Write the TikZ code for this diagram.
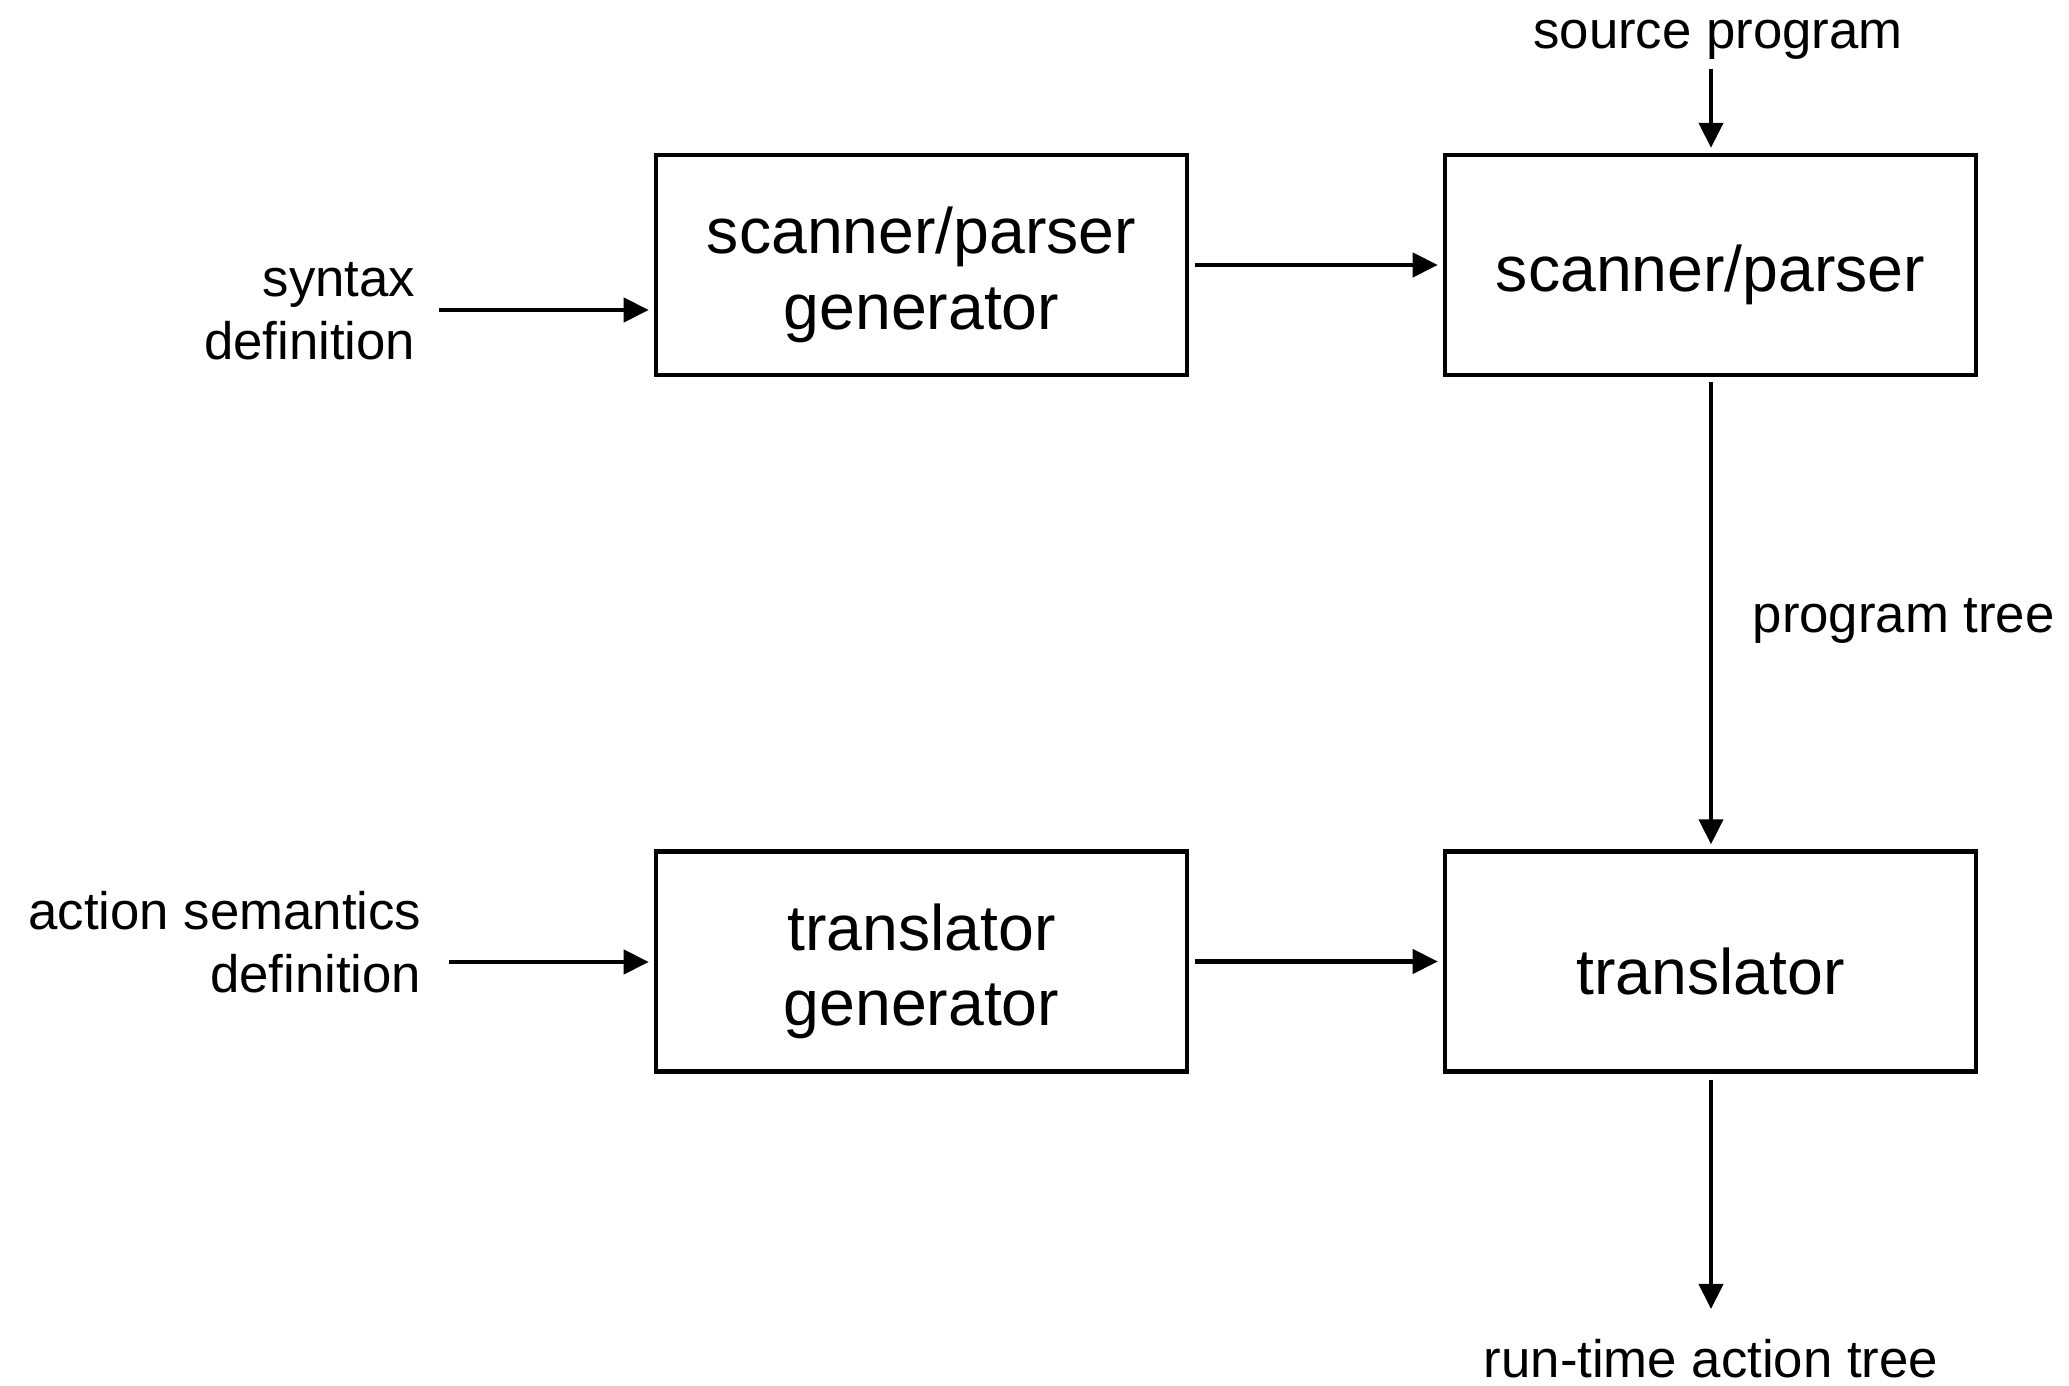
\documentclass[tikz,border=0pt]{standalone}
\usepackage{fontspec}
\setmainfont{Liberation Sans}
\usetikzlibrary{arrows.meta}
\newcommand\boxstrut{\rule{0pt}{0.66cm}}
\begin{document}
\begin{tikzpicture}[x=0.01cm,y=-0.01cm,
  box/.style={draw, line width=1.2pt, minimum width=5.31cm, minimum height=2.20cm, inner sep=0pt, align=center, font=\fontsize{18.3}{21.5}\selectfont},
  lbl/.style={inner sep=0pt, font=\fontsize{15}{17.9}\selectfont},
  arr/.style={line width=1.2pt, -{Triangle[length=0.25cm,width=0.24cm]}, shorten >=0.05cm}]
\useasboundingbox (0,0) rectangle (2069,1386);
\node[box] (b1) at (921.5,265) {\boxstrut scanner/parser\\generator};
\node[box] (b2) at (1710.5,265) {\boxstrut scanner/parser};
\node[box] (b3) at (921.5,961.5) {\boxstrut translator\\generator};
\node[box] (b4) at (1710.5,961.5) {\boxstrut translator};
\node[lbl, align=right, anchor=east] (syn) at (416,311) {syntax\\definition};
\node[lbl, align=right, anchor=east] (act) at (422,942) {action semantics\\definition};
\node[lbl] (src) at (1718,40) {source program};
\node[lbl, anchor=west] (pt) at (1752,621) {program tree};
\node[lbl] (rt) at (1711,1359) {run-time action tree};
\coordinate (srcs) at (1711,69);
\coordinate (syns) at (439,310);
\coordinate (acts) at (449,962);
\coordinate (rte) at (1711,1309);
\draw[arr] (syns) -- (syns -| b1.west);
\draw[arr] (acts) -- (acts -| b3.west);
\draw[arr] ([xshift=0.06cm]b1.east) -- (b2.west);
\draw[arr] ([xshift=0.06cm]b3.east) -- (b4.west);
\draw[arr] (srcs) -- (srcs |- b2.north);
\draw[arr] ([yshift=-0.05cm]b2.south -| srcs) -- (b4.north -| srcs);
\draw[arr, shorten >=0pt] ([yshift=-0.06cm]b4.south -| srcs) -- (rte);
\end{tikzpicture}
\end{document}
